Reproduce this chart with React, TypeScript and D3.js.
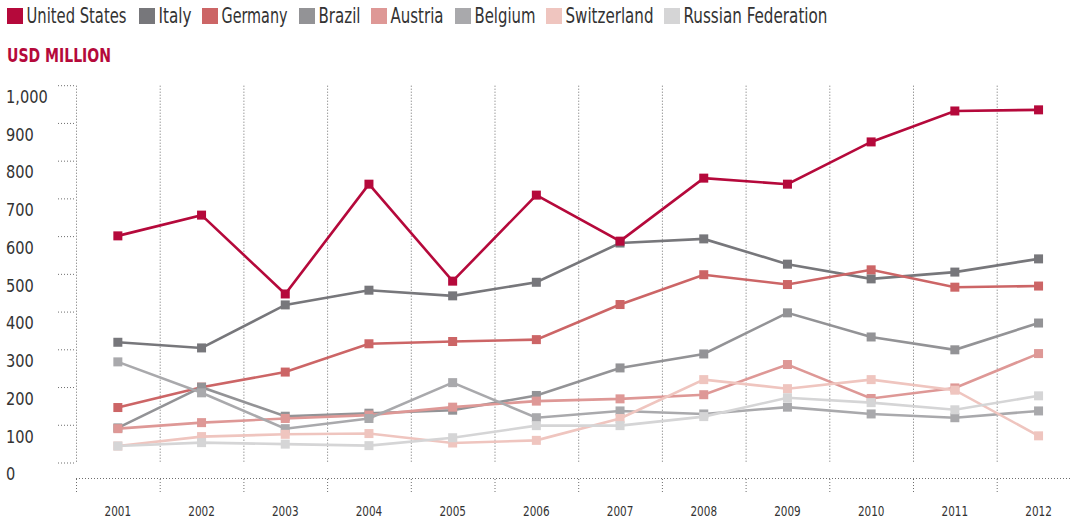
import React from "react";
import * as d3 from "d3";

const years = ["2001","2002","2003","2004","2005","2006","2007","2008","2009","2010","2011","2012"];
const seriesNames = ["United States","Italy","Germany","Brazil","Austria","Belgium","Switzerland","Russian Federation"];
const unitedStates = [602, 657, 448, 739, 482, 710, 588, 755, 739, 851, 933, 936];
const italy = [320, 305, 419, 458, 443, 479, 583, 594, 527, 488, 506, 541];
const germany = [147, 201, 241, 316, 322, 327, 420, 499, 473, 512, 466, 469];
const brazil = [93, 201, 124, 132, 140, 179, 252, 289, 398, 334, 300, 371];
const austria = [91, 107, 118, 127, 148, 164, 170, 181, 261, 171, 199, 290];
const belgium = [268, 186, 91, 118, 213, 120, 138, 130, 148, 130, 120, 138];
const switzerland = [45, 70, 76, 78, 53, 60, 118, 221, 197, 221, 193, 72];
const russia = [45, 54, 50, 46, 67, 99, 99, 123, 173, 160, 141, 178];
const yTicks = [0, 100, 200, 300, 400, 500, 600, 700, 800, 900, 1000];

const seriesValues = [unitedStates, italy, germany, brazil, austria, belgium, switzerland, russia];
const colors = ["#b5093b", "#77777b", "#cc6566", "#939396", "#de9896", "#a9a9ac", "#efc5bf", "#d5d5d6"];
const legendX = [7, 139, 202, 299, 371, 455, 546, 664];
const legendW = [100, 33, 66, 42, 53, 61, 88, 144];

const FONT = "'DejaVu Sans Condensed', 'DejaVu Sans', sans-serif";

export default function App() {
  const W = 1072, H = 519;
  const x = d3.scaleBand<string>().domain(years).range([76, 1080.4]).paddingInner(0).paddingOuter(0);
  const y = d3.scaleLinear().domain([0, 1000]).range([463, 85.7]);
  const line = d3.line<number>()
    .x((_, i) => (x(years[i]) as number) + x.bandwidth() / 2)
    .y((d) => y(d));
  const boundaries = years.map((yr) => x(yr) as number);
  const grid = "#6e6e6e";
  const ms = 9;
  const order = [1, 2, 3, 4, 5, 6, 7, 0];
  const fmt = d3.format(",");

  return (
    <svg width={W} height={H} style={{ position: "absolute", left: 0, top: 0, background: "#fff" }}>
      {/* legend */}
      {seriesNames.map((name, i) => (
        <g key={name}>
          <rect x={legendX[i]} y={8} width={16} height={16} fill={colors[i]} />
          <text x={legendX[i] + 19.5} y={23} fontFamily={FONT} fontSize={20.5} fill="#333"
            textLength={legendW[i]} lengthAdjust="spacingAndGlyphs">{name}</text>
        </g>
      ))}
      <text x={7} y={62} fontFamily={FONT} fontSize={19} fontWeight="bold" fill="#b5093b"
        textLength={104} lengthAdjust="spacingAndGlyphs">USD MILLION</text>

      {/* y ticks */}
      {yTicks.map((t) => (
        <g key={t}>
          <line x1={58} x2={76} y1={y(t)} y2={y(t)} stroke={grid} strokeDasharray="1,2" />
          <text transform={`translate(6,${y(t) + 17.3}) scale(0.9,1)`} fontFamily={FONT} fontSize={18} fill="#333">{fmt(t)}</text>
        </g>
      ))}
      {/* vertical gridlines */}
      {boundaries.map((b) => (
        <line key={"g" + b} x1={b + 0.5} x2={b + 0.5} y1={85.7} y2={463} stroke={grid} strokeDasharray="1,2" />
      ))}
      {/* x axis */}
      <line x1={76} x2={W} y1={478.5} y2={478.5} stroke={grid} strokeDasharray="1,2" />
      {boundaries.map((b) => (
        <line key={"t" + b} x1={b + 0.5} x2={b + 0.5} y1={479} y2={494} stroke={grid} strokeDasharray="1,2" />
      ))}
      {years.map((yr) => (
        <text key={yr} transform={`translate(${(x(yr) as number) + x.bandwidth() / 2},516) scale(0.8,1)`}
          textAnchor="middle" fontFamily={FONT} fontSize={14.5} fill="#333">{yr}</text>
      ))}

      {/* series */}
      {order.map((si) => (
        <g key={seriesNames[si]}>
          <path d={line(seriesValues[si]) || ""} fill="none" stroke={colors[si]} strokeWidth={2.6} />
          {seriesValues[si].map((v, i) => (
            <rect key={i}
              x={(x(years[i]) as number) + x.bandwidth() / 2 - ms / 2}
              y={y(v) - ms / 2}
              width={ms} height={ms} fill={colors[si]} />
          ))}
        </g>
      ))}
    </svg>
  );
}
